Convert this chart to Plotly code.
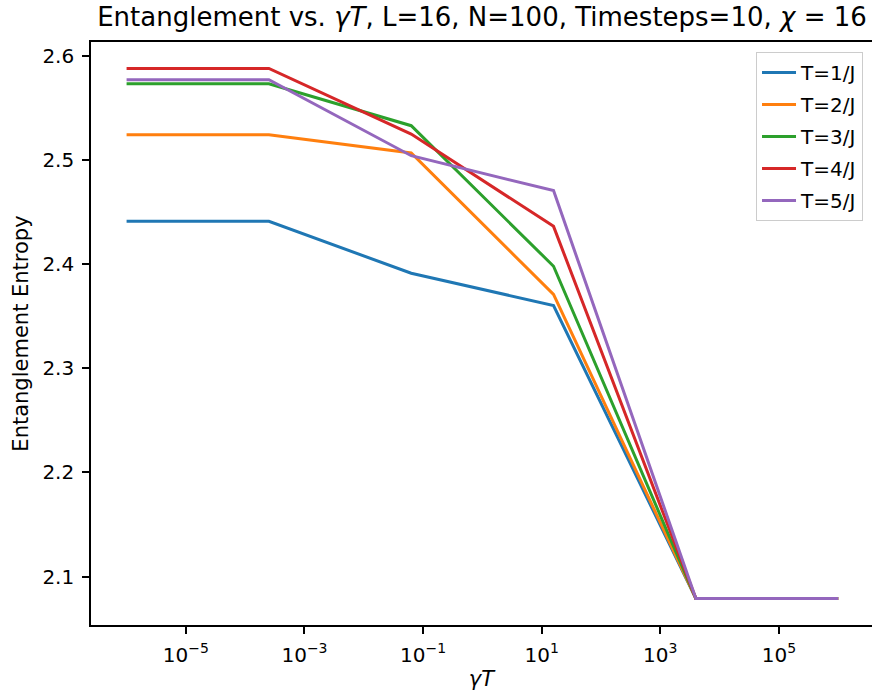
import numpy as np
import plotly.graph_objects as go

# gamma*T values (log-spaced)
gamma_T = [1e-6, 10**-3.6, 10**-1.2, 10**1.2, 10**3.6, 1e6]

labels = ["T=1/J", "T=2/J", "T=3/J", "T=4/J", "T=5/J"]
S_T1 = [2.441, 2.441, 2.3912, 2.3602, 2.079, 2.079]
S_T2 = [2.5242, 2.5242, 2.5066, 2.3708, 2.079, 2.079]
S_T3 = [2.5731, 2.5731, 2.5328, 2.3979, 2.079, 2.079]
S_T4 = [2.5877, 2.5877, 2.5248, 2.4362, 2.079, 2.079]
S_T5 = [2.5769, 2.5769, 2.504, 2.4705, 2.079, 2.079]
series = [S_T1, S_T2, S_T3, S_T4, S_T5]
colors = ["#1f77b4", "#ff7f0e", "#2ca02c", "#d62728", "#9467bd"]

x_tickvals = [1e-5, 1e-3, 1e-1, 1e1, 1e3, 1e5]
x_ticktext = ["10<sup>\u22125</sup>", "10<sup>\u22123</sup>", "10<sup>\u22121</sup>",
              "10<sup>1</sup>", "10<sup>3</sup>", "10<sup>5</sup>"]
y_tickvals = [2.1, 2.2, 2.3, 2.4, 2.5, 2.6]

FONT = "DejaVu Sans"

fig = go.Figure()
for i, (lab, ys, c) in enumerate(zip(labels, series, colors)):
    fig.add_trace(go.Scatter(x=gamma_T, y=ys, mode="lines", name=lab,
                             legendgroup=f"g{i}",
                             line=dict(color=c, width=3)))

all_y = np.concatenate([np.array(s) for s in series])
ymin, ymax = all_y.min(), all_y.max()
pad = 0.05 * (ymax - ymin)
lx0, lx1 = np.log10(min(gamma_T)), np.log10(max(gamma_T))
xpad = 0.05 * (lx1 - lx0)

fig.update_layout(
    width=872, height=697,
    margin=dict(l=91, r=0, t=42, b=72, autoexpand=False),
    paper_bgcolor="white", plot_bgcolor="white",
    font=dict(family=FONT, size=20, color="black"),
    title=dict(text="Entanglement vs. <i>\u03b3T</i>, L=16, N=100, Timesteps=10, <i>\u03c7</i> = 16",
               x=482/872, xref="container", xanchor="center",
               y=1 - 17/697, yref="container", yanchor="middle",
               font=dict(family=FONT, size=26, color="black")),
    showlegend=True,
    legend=dict(x=0.9885, y=0.983, xanchor="right", yanchor="top",
                bgcolor="white", bordercolor="#cccccc", borderwidth=1,
                font=dict(family=FONT, size=20, color="black"),
                tracegroupgap=3, itemwidth=34),
)
fig.update_xaxes(type="log", range=[lx0 - xpad, lx0 - xpad + 781/59.3],
                 tickvals=x_tickvals, ticktext=x_ticktext,
                 showgrid=False, zeroline=False,
                 showline=True, linecolor="black", linewidth=1.6, mirror=True,
                 ticks="outside", ticklen=7, tickwidth=1.6, tickcolor="black",
                 ticklabelstandoff=4,
                 title=dict(text="<i>\u03b3T</i>", font=dict(family=FONT, size=21), standoff=6))
fig.update_yaxes(range=[ymin - pad, ymax + pad],
                 tickvals=y_tickvals, ticktext=[f"{v:.1f}" for v in y_tickvals],
                 showgrid=False, zeroline=False,
                 showline=True, linecolor="black", linewidth=1.6,
                 ticks="outside", ticklen=7, tickwidth=1.6, tickcolor="black",
                 ticklabelstandoff=4,
                 title=dict(text="Entanglement Entropy", font=dict(family=FONT, size=21), standoff=8))

fig.write_html("out.html")
